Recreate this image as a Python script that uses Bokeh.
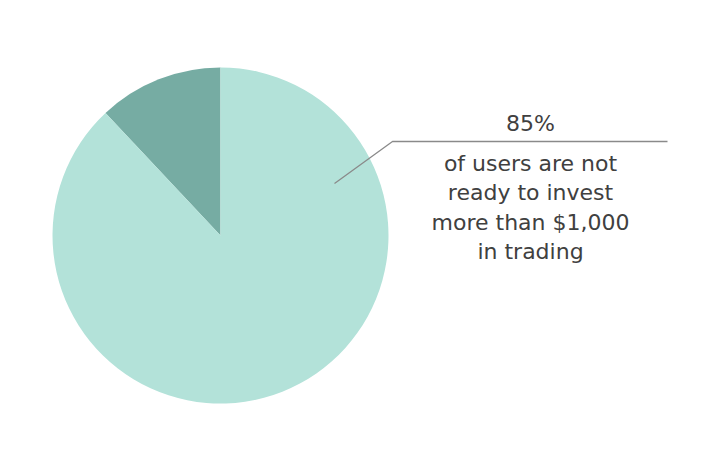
from bokeh.plotting import figure
from bokeh.models import Range1d, ColumnDataSource
from bokeh.core.properties import value
from bokeh.embed import file_html
from bokeh.resources import INLINE
import math

categories = ["more than $1,000", "not ready to invest more than $1,000"]
shares = [12, 88]
colors = ["#76aca3", "#b3e2d9"]
headline = "85%"
caption_lines = ["of users are not", "ready to invest", "more than $1,000", "in trading"]

W, H = 720, 470
p = figure(width=W, height=H, output_backend="svg", toolbar_location=None,
           x_range=Range1d(0, W), y_range=Range1d(0, H), min_border=0)
p.axis.visible = False
p.grid.visible = False
p.outline_line_color = None
p.background_fill_color = "white"

total = sum(shares)
starts, ends = [], []
a = math.pi / 2
for s in shares:
    starts.append(a)
    a += 2 * math.pi * s / total
    ends.append(a)

cx, cy, r = 220, H - 235, 168
src = ColumnDataSource(dict(cat=categories, start=starts, end=ends, color=colors,
                            x=[cx] * 2, y=[cy] * 2))
p.wedge(x="x", y="y", radius=r, start_angle="start", end_angle="end",
        fill_color="color", line_color=None, source=src)

# leader line
p.line(x=[334, 392, 667], y=[H - 183, H - 141, H - 141], line_color="#8a8a8a", line_width=1.3)

tx = 530
font = value("DejaVu Sans")
p.text(x=[tx], y=[H - 122.5], text=[headline], text_align="center", text_baseline="alphabetic",
       text_font=font, text_font_size="22px", text_color="#404040")
ys = [162.5, 192, 222, 251]
p.text(x=[tx] * 4, y=[H - y for y in ys], text=caption_lines, text_align="center",
       text_baseline="alphabetic", text_font=font, text_font_size="22px",
       text_color="#404040")

open("out.html", "w").write(file_html(p, INLINE))
